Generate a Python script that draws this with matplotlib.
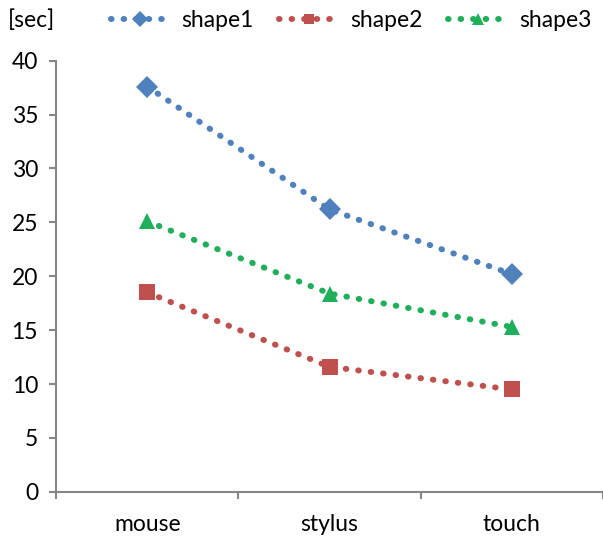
import matplotlib
matplotlib.use("Agg")
from matplotlib import pyplot as plt

plt.rcParams['font.family'] = ['Lato', 'DejaVu Sans']

# 入力デバイスごとの所要時間
devices = ['mouse', 'stylus', 'touch']
shape1 = [37.6, 26.2, 20.2]
shape2 = [18.5, 11.6, 9.5]
shape3 = [25.1, 18.4, 15.3]

series = [
    ('shape1', shape1, '#4F81BD', 'D', 11),
    ('shape2', shape2, '#C0504D', 's', 11),
    ('shape3', shape3, '#1FAE5A', '^', 12),
]

fig = plt.figure(figsize=(6.03, 5.37), dpi=100)
ax = fig.add_axes([0.093, 0.084, 0.907, 0.803])

x = range(len(devices))
for name, vals, color, marker, ms in series:
    ax.plot(x, vals, color=color, lw=4.3, linestyle=(0, (0.1, 2.0)),
            dash_capstyle='round', marker=marker, markersize=ms,
            markeredgewidth=0, label=name)

ax.set_xlim(-0.5, 2.5)
ax.set_ylim(0, 40)
ax.set_yticks(range(0, 41, 5))
ax.set_xticks([0, 1, 2])
ax.set_xticklabels(devices)
ax.set_xticks([-0.5, 0.5, 1.5, 2.5], minor=True)

gray = '#868686'
for side in ['top', 'right']:
    ax.spines[side].set_visible(False)
for side in ['left', 'bottom']:
    ax.spines[side].set_color(gray)
    ax.spines[side].set_linewidth(1.5)

fs = 16.5
ax.tick_params(axis='y', direction='out', length=5, width=1.5, color=gray,
               labelsize=fs, pad=8)
ax.tick_params(axis='x', which='major', length=0, labelsize=fs, pad=16)
ax.tick_params(axis='x', which='minor', direction='out', length=5, width=1.5,
               color=gray)

fig.text(0.013, 0.962, '[sec]', fontsize=fs, va='center')
fig.legend(loc='center', bbox_to_anchor=(0.582, 0.962), ncol=3, frameon=False,
           fontsize=fs, handlelength=2.6, columnspacing=1.1, handletextpad=0.5,
           markerscale=0.7, borderaxespad=0)

fig.savefig('out.png', dpi=100)
